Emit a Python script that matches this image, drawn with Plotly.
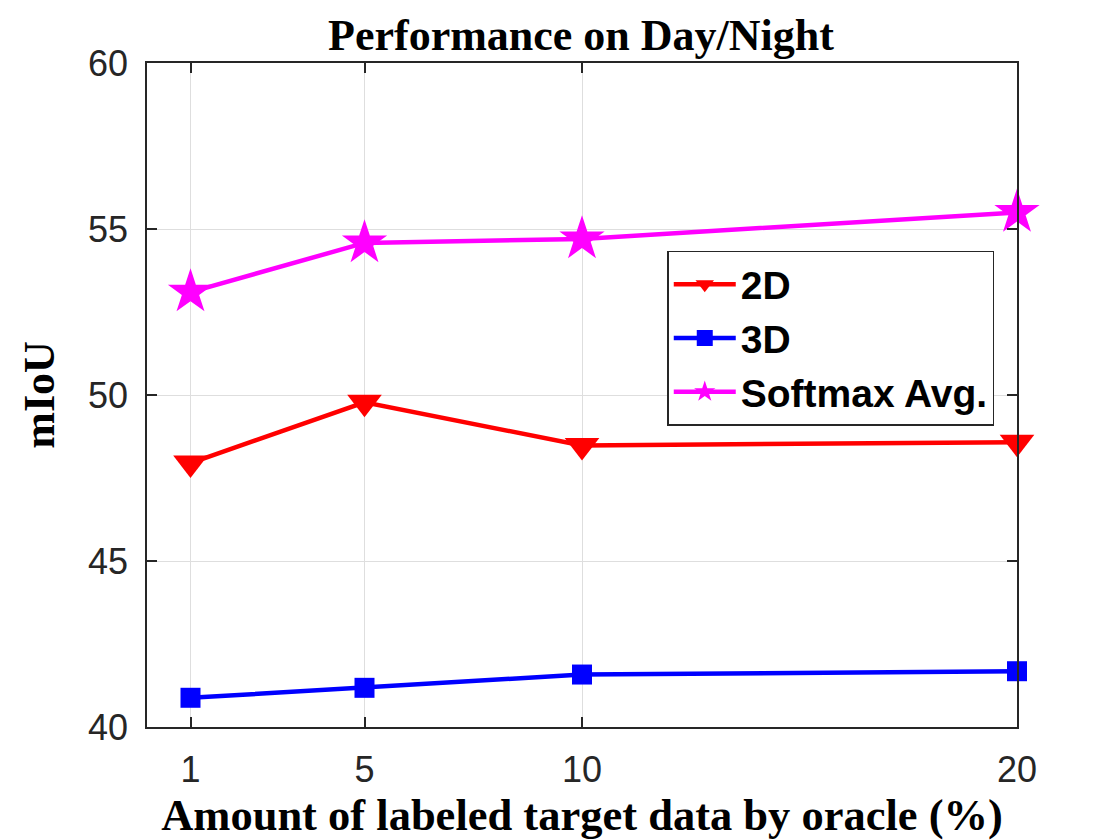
import plotly.graph_objects as go

x_vals = [1, 5, 10, 20]
y_2d = [47.95, 49.78, 48.48, 48.58]
y_3d = [40.88, 41.18, 41.58, 41.68]
y_soft = [53.1, 54.58, 54.7, 55.5]
x_ticks = [1, 5, 10, 20]
y_ticks = [40, 45, 50, 55, 60]

fig = go.Figure()
fig.add_trace(go.Scatter(x=x_vals, y=y_2d, name="<b>2D</b>", mode="lines+markers",
                         line=dict(color="#ff0000", width=4.5), cliponaxis=False,
                         marker=dict(symbol="triangle-down", size=30, color="#ff0000")))
fig.add_trace(go.Scatter(x=x_vals, y=y_3d, name="<b>3D</b>", mode="lines+markers",
                         line=dict(color="#0000ff", width=4.5), cliponaxis=False,
                         marker=dict(symbol="square", size=20, color="#0000ff")))
fig.add_trace(go.Scatter(x=x_vals, y=y_soft, name="<b>Softmax Avg.</b>", mode="lines+markers",
                         line=dict(color="#ff00ff", width=4.5), cliponaxis=False,
                         marker=dict(symbol="star", size=34, color="#ff00ff")))

axis_common = dict(showline=True, linecolor="#262626", linewidth=1.5, mirror="ticks",
                   ticks="inside", ticklen=10, tickcolor="#262626", tickwidth=1.5,
                   showgrid=True, gridcolor="#dedede", gridwidth=1, zeroline=False,
                   ticklabelstandoff=10,
                   tickfont=dict(family="Liberation Sans, Arial", size=36, color="#262626"))

serif = "Liberation Serif, Times New Roman"

fig.update_layout(
    width=1120, height=840,
    paper_bgcolor="white", plot_bgcolor="white",
    margin=dict(l=139, r=111, t=55, b=121),
    title=dict(text="<b>Performance on Day/Night</b>", x=(581 - 8) / 1120, xanchor="center",
               y=1 - 27 / 840, yanchor="middle",
               font=dict(family=serif, size=44, color="black")),
    xaxis=dict(range=[0, 20], tickvals=x_ticks, ticktext=[str(t) for t in x_ticks],
               title=dict(text="<b>Amount of labeled target data by oracle (%)</b>",
                          font=dict(family=serif, size=44.5, color="black"),
                          standoff=8),
               **axis_common),
    yaxis=dict(range=[40, 60], tickvals=y_ticks,
               title=dict(text="<b>mIoU</b>",
                          font=dict(family=serif, size=44, color="black"),
                          standoff=20),
               **axis_common),
    legend=dict(x=0.598, y=0.717, xanchor="left", yanchor="top",
                bgcolor="white", bordercolor="#262626", borderwidth=1.5,
                font=dict(family="Liberation Sans, Arial", size=39, color="black"),
                tracegroupgap=0, itemsizing="trace", itemwidth=62),
    showlegend=True,
)

fig.write_html("out.html")
